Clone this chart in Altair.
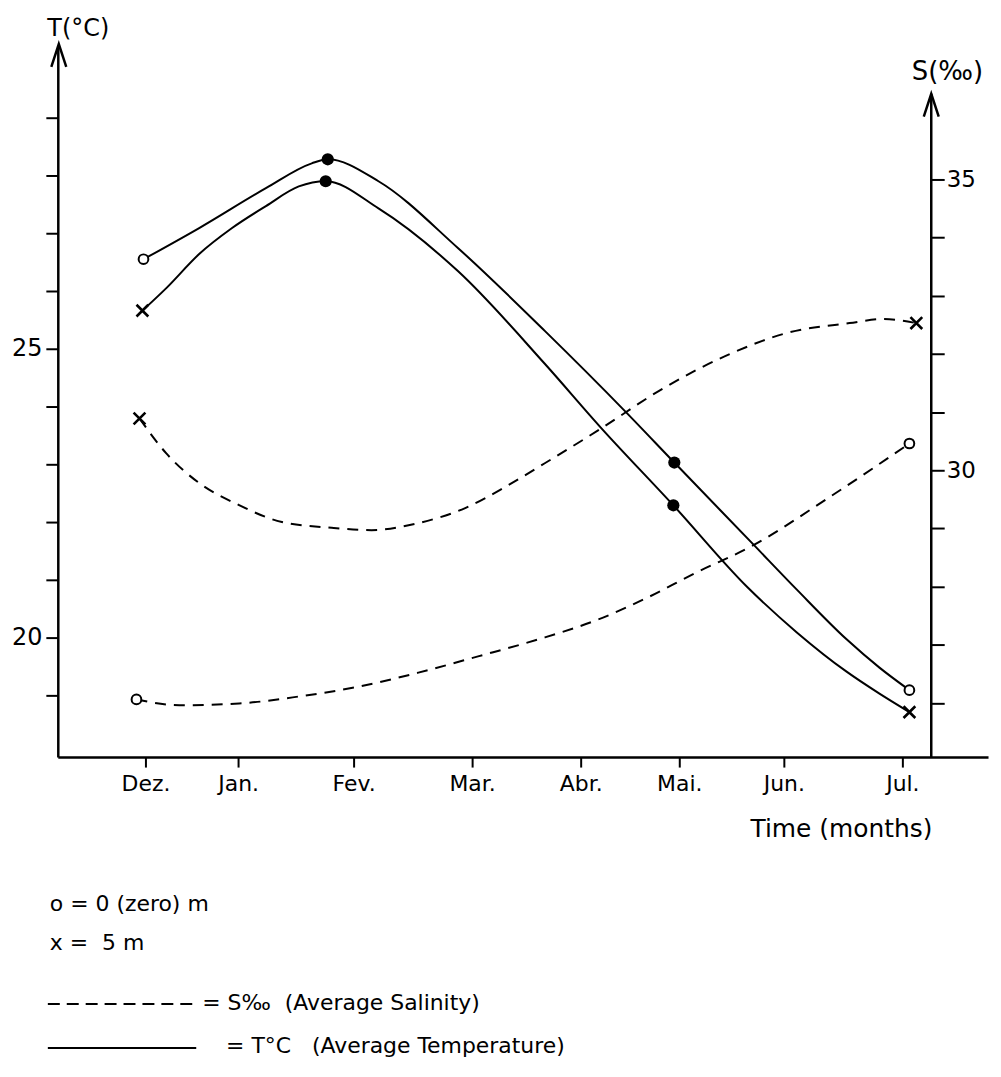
import json
import altair as alt
import pandas as pd

FONT = "DejaVu Sans"
NB = "\u00a0"

# ---- x axis: month positions (Dez = 0 ... Jul = 7) as drawn ----
month_ticks = [0.0, 0.857, 1.925, 3.021, 4.025, 4.937, 5.904, 7.0]
month_labels = ["Dez.", "Jan.", "Fev.", "Mar.", "Abr.", "Mai.", "Jun.", "Jul."]

# ---- Temperature curves (°C) ----
t0_m = [-0.018, 0.497, 1.114, 1.538, 1.686, 2.155, 2.892, 3.693, 4.430, 4.891, 5.628, 6.024, 6.484, 6.788, 7.065]
t0_v = [26.55, 27.09, 27.78, 28.21, 28.28, 27.90, 26.74, 25.31, 23.93, 23.03, 21.60, 20.83, 19.97, 19.48, 19.09]

t5_m = [-0.028, 0.193, 0.497, 0.801, 1.114, 1.418, 1.667, 2.155, 2.892, 3.693, 4.209, 4.882, 5.563, 6.024, 6.484, 6.788, 7.065]
t5_v = [25.66, 26.05, 26.64, 27.09, 27.47, 27.81, 27.90, 27.43, 26.34, 24.74, 23.64, 22.29, 20.88, 20.09, 19.41, 19.03, 18.71]

# ---- Salinity curves (‰) ----
s0_m = [-0.083, 0.313, 0.866, 1.418, 1.971, 2.524, 3.076, 3.629, 4.182, 4.642, 5.103, 5.591, 6.328, 7.065]
s0_v = [26.06, 25.96, 25.99, 26.11, 26.28, 26.52, 26.80, 27.09, 27.43, 27.81, 28.25, 28.68, 29.54, 30.46]

s5_m = [-0.055, 0.193, 0.497, 0.866, 1.262, 1.722, 2.091, 2.496, 2.957, 3.325, 3.693, 4.182, 4.799, 5.407, 5.932, 6.512, 6.825, 7.129]
s5_v = [30.89, 30.29, 29.78, 29.40, 29.11, 29.01, 28.97, 29.08, 29.35, 29.71, 30.12, 30.68, 31.42, 32.00, 32.36, 32.53, 32.60, 32.53]

# ---- observed (marked) points ----
t_obs_m = [-0.018, 1.686, 4.891, 7.065, -0.028, 1.667, 4.882, 7.065]
t_obs_v = [26.55, 28.28, 23.03, 19.09, 25.66, 27.90, 22.29, 18.71]
t_obs_kind = ["open", "filled", "filled", "open", "cross", "filled", "filled", "cross"]

s_obs_m = [-0.083, 7.065, -0.055, 7.129]
s_obs_v = [26.06, 30.46, 30.89, 32.53]
s_obs_kind = ["open", "open", "cross", "cross"]

t_lines = pd.concat([
    pd.DataFrame({"m": t0_m, "v": t0_v, "series": "0 m"}),
    pd.DataFrame({"m": t5_m, "v": t5_v, "series": "5 m"}),
])
s_lines = pd.concat([
    pd.DataFrame({"m": s0_m, "v": s0_v, "series": "0 m"}),
    pd.DataFrame({"m": s5_m, "v": s5_v, "series": "5 m"}),
])
t_pts = pd.DataFrame({"m": t_obs_m, "v": t_obs_v, "kind": t_obs_kind})
s_pts = pd.DataFrame({"m": s_obs_m, "v": s_obs_v, "kind": s_obs_kind})

# ---- scales & axes ----
x_scale = alt.Scale(domain=[-0.8105, 7.792], nice=False, zero=False)
t_scale = alt.Scale(domain=[17.931, 30.224], nice=False, zero=False)
s_scale = alt.Scale(domain=[25.068, 37.277], nice=False, zero=False)

label_expr = "%s[indexof(%s, datum.value)]" % (json.dumps(month_labels), json.dumps(month_ticks))

x_axis = alt.Axis(
    values=month_ticks, labelExpr=label_expr, title="Time (months)",
    titleX=695, titleY=80, titleAlign="left", titleBaseline="alphabetic",
    titleFontSize=25, titleFontWeight="normal", labelFontSize=22,
    labelPadding=7, tickSize=10, tickWidth=2, domainWidth=2.5, grid=False,
    labelFlush=False, labelOverlap=False,
)
t_axis = alt.Axis(
    values=list(range(19, 30)), labelExpr="datum.value % 5 == 0 ? datum.label : ''",
    title="T(°C)", titleAngle=0, titleX=-11, titleY=-12, titleAlign="left",
    titleBaseline="alphabetic", titleFontSize=24, titleFontWeight="normal",
    labelFontSize=24, labelPadding=4, tickSize=12, tickWidth=2, domainWidth=2.5,
    grid=False,
)
s_axis = alt.Axis(
    orient="right", offset=-57, domain=False,
    values=list(range(26, 36)), labelExpr="datum.value % 5 == 0 ? datum.label : ''",
    title="S(‰)", titleAngle=0, titleX=-20, titleY=33, titleAlign="left",
    titleBaseline="alphabetic", titleFontSize=26, titleFontWeight="normal",
    labelFontSize=23, labelPadding=2, tickSize=13, tickWidth=2, grid=False,
)

X = alt.X("m:Q", scale=x_scale, axis=x_axis)
YT = alt.Y("v:Q", scale=t_scale, axis=t_axis)
YS = alt.Y("v:Q", scale=s_scale, axis=s_axis)

CROSS = "M-1,-1L1,1M1,-1L-1,1"
CHEVRON = "M-0.75,2.3L0,0L0.75,2.3"


def markers(df, y):
    base = alt.Chart(df)
    open_c = base.mark_point(shape="circle", size=95, filled=True, fill="white",
                             stroke="black", strokeWidth=2, opacity=1).encode(
        x=X, y=y).transform_filter("datum.kind == 'open'")
    filled_c = base.mark_point(shape="circle", size=150, filled=True, color="black",
                               opacity=1).encode(x=X, y=y).transform_filter("datum.kind == 'filled'")
    cross = base.mark_point(shape=CROSS, size=140, filled=False, color="black",
                            strokeWidth=2.6, opacity=1).encode(x=X, y=y).transform_filter("datum.kind == 'cross'")
    return [open_c, filled_c, cross]


t_line_chart = alt.Chart(t_lines).mark_line(interpolate="monotone", color="black", strokeWidth=2).encode(
    x=X, y=YT, detail="series:N")
s_line_chart = alt.Chart(s_lines).mark_line(interpolate="monotone", color="black", strokeWidth=2,
                                            strokeDash=[11, 8]).encode(x=X, y=YS, detail="series:N")

t_group = alt.layer(t_line_chart, *markers(t_pts, YT))
s_group = alt.layer(s_line_chart, *markers(s_pts, YS))

one = pd.DataFrame({"a": [0]})

# axis arrows and right axis line
left_arrow = alt.Chart(one).mark_point(shape=CHEVRON, size=400, filled=False, color="black",
                                       strokeWidth=2.5, opacity=1).encode(x=alt.value(1), y=alt.value(-3))
right_arrow = alt.Chart(one).mark_point(shape=CHEVRON, size=400, filled=False, color="black",
                                        strokeWidth=2.5, opacity=1).encode(x=alt.value(877), y=alt.value(47))
right_line = alt.Chart(one).mark_rule(color="black", strokeWidth=2.5).encode(
    x=alt.value(877), y=alt.value(47), y2=alt.value(713))


# hand-written legend below the chart
def txt(s, x, y, size=22):
    return alt.Chart(one).mark_text(text=s, align="left", baseline="alphabetic", font=FONT,
                                    fontSize=size, color="black").encode(x=alt.value(x), y=alt.value(y))


leg = [
    txt("o = 0 (zero) m", -8, 868),
    txt("x =" + NB + " 5 m", -8, 907),
    alt.Chart(one).mark_rule(color="black", strokeWidth=2, strokeDash=[12, 7]).encode(
        x=alt.value(-10), x2=alt.value(139), y=alt.value(961)),
    txt("= S‰" + NB + NB + "(Average Salinity)", 145, 967),
    alt.Chart(one).mark_rule(color="black", strokeWidth=2).encode(
        x=alt.value(-10), x2=alt.value(139), y=alt.value(1005)),
    txt("= T°C" + NB + NB + NB + "(Average Temperature)", 169, 1010),
]

chart = alt.layer(t_group, s_group, right_line, left_arrow, right_arrow, *leg).resolve_scale(
    y="independent"
).properties(
    width=934, height=713,
    autosize=alt.AutoSizeParams(type="none"),
    padding={"left": 50, "top": 37, "right": 5, "bottom": 310},
    background="white",
).configure_axis(
    labelFont=FONT, titleFont=FONT, labelColor="black", titleColor="black",
    domainColor="black", tickColor="black",
).configure_view(stroke="transparent")

chart.save("out.html", embed_options={"renderer": "svg", "actions": False})
